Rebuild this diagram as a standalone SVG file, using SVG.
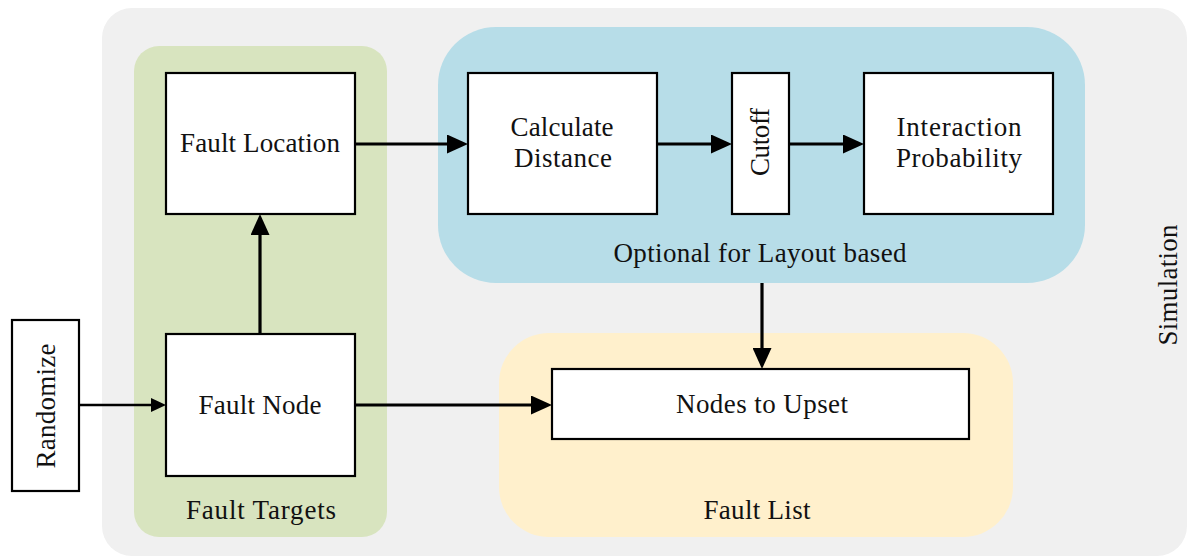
<svg xmlns="http://www.w3.org/2000/svg" width="1189" height="558" viewBox="0 0 1189 558">
<style>
.box{fill:#fff;stroke:#000;stroke-width:2.2}
.t{font-family:"Liberation Serif",serif;font-size:27px;fill:#111;text-anchor:middle}
.c{fill:none;stroke:#000;stroke-width:3.2}
.cs{fill:none;stroke:#000;stroke-width:2.6}
</style>
<defs>
<marker id="ah" markerUnits="userSpaceOnUse" markerWidth="21" markerHeight="19" refX="0" refY="9.5" orient="auto">
<path d="M0,0 L21,9.5 L0,19 z" fill="#000"/>
</marker>
<marker id="ahs" markerUnits="userSpaceOnUse" markerWidth="15" markerHeight="14" refX="0" refY="7" orient="auto">
<path d="M0,0 L15,7 L0,14 z" fill="#000"/>
</marker>
</defs>
<rect width="1189" height="558" fill="#fff"/>
<g id="simulation">
<rect x="102" y="8" width="1085" height="548" rx="30" fill="#f0f0f0"/>
<text class="t" transform="translate(1177,285) rotate(-90)" textLength="121" lengthAdjust="spacing">Simulation</text>
</g>
<g id="fault-targets">
<rect x="134" y="46" width="253" height="491" rx="25" fill="#d8e4bf"/>
<text class="t" x="261" y="519" textLength="150" lengthAdjust="spacing">Fault Targets</text>
</g>
<g id="layout-group">
<rect x="438" y="27" width="647" height="256" rx="58" fill="#b7dde8"/>
<text class="t" x="760" y="262" textLength="293" lengthAdjust="spacing">Optional for Layout based</text>
</g>
<g id="fault-list">
<rect x="499" y="333" width="514" height="204" rx="50" fill="#fff0cc"/>
<text class="t" x="757" y="519" textLength="107" lengthAdjust="spacing">Fault List</text>
</g>
<g id="randomize">
<rect class="box" x="12" y="320" width="67" height="171"/>
<text class="t" transform="translate(55,406) rotate(-90)" textLength="125" lengthAdjust="spacing">Randomize</text>
</g>
<g id="fault-location">
<rect class="box" x="166" y="73" width="189" height="141"/>
<text class="t" x="260" y="152" textLength="160" lengthAdjust="spacing">Fault Location</text>
</g>
<g id="fault-node">
<rect class="box" x="166" y="334" width="189" height="142"/>
<text class="t" x="260" y="414" textLength="123" lengthAdjust="spacing">Fault Node</text>
</g>
<g id="calculate-distance">
<rect class="box" x="468" y="73" width="189" height="141"/>
<text class="t" x="562" y="136" textLength="103" lengthAdjust="spacing">Calculate</text>
<text class="t" x="563" y="167" textLength="98" lengthAdjust="spacing">Distance</text>
</g>
<g id="cutoff">
<rect class="box" x="732" y="73" width="57" height="141"/>
<text class="t" transform="translate(769,142) rotate(-90)" textLength="68" lengthAdjust="spacing">Cutoff</text>
</g>
<g id="interaction-probability">
<rect class="box" x="864" y="73" width="189" height="141"/>
<text class="t" x="959" y="136" textLength="125" lengthAdjust="spacing">Interaction</text>
<text class="t" x="959" y="167" textLength="126" lengthAdjust="spacing">Probability</text>
</g>
<g id="nodes-to-upset">
<rect class="box" x="552" y="369" width="417" height="70"/>
<text class="t" x="762" y="413" textLength="172" lengthAdjust="spacing">Nodes to Upset</text>
</g>
<g id="connectors">
<path class="c" d="M355,144 H447" marker-end="url(#ah)"/>
<path class="c" d="M657,144 H711" marker-end="url(#ah)"/>
<path class="c" d="M789,144 H843" marker-end="url(#ah)"/>
<path class="c" d="M260,334 V235" marker-end="url(#ah)"/>
<path class="cs" d="M79,405 H151" marker-end="url(#ahs)"/>
<path class="c" d="M355,405 H531" marker-end="url(#ah)"/>
<path class="c" d="M762,283 V348" marker-end="url(#ah)"/>
</g>
</svg>
